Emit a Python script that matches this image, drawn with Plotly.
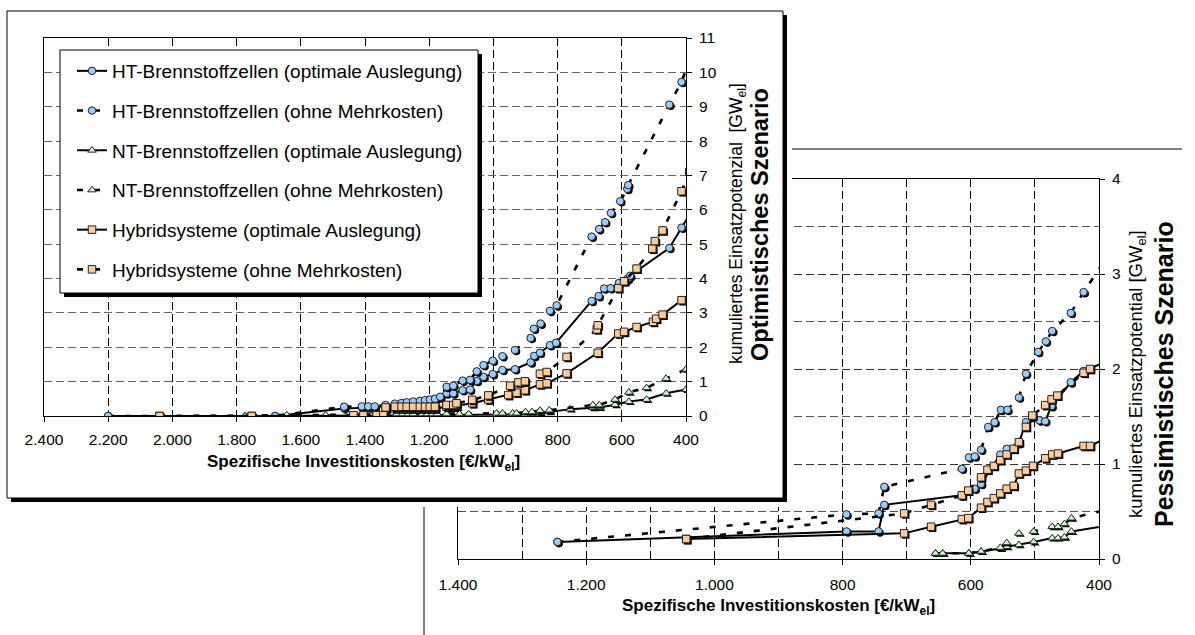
import plotly.graph_objects as go

W, H = 1195, 635
FONT = "Liberation Sans, Arial, sans-serif"

# ---------------- DATA (cost in EUR/kW_el, cumulative potential in GW_el) ----------------
# Optimistic scenario (front panel)
opt_ht_opt_cost = [2200, 1680, 1465, 1410, 1390, 1370, 1336, 1307, 1286, 1270, 1250, 1229, 1213, 1198, 1182, 1166,
                   1146, 1125, 1096, 1073, 1052, 1031, 1002, 972, 933, 884, 873, 855, 824, 805, 694, 672, 655, 635,
                   609, 587, 581, 574, 452, 414, 380]
opt_ht_opt_gw = [0.0, 0.0, 0.22, 0.25, 0.25, 0.25, 0.30, 0.33, 0.35, 0.37, 0.39, 0.41, 0.43, 0.45, 0.48, 0.54,
                 0.66, 0.66, 0.75, 0.77, 1.02, 1.14, 1.22, 1.34, 1.36, 1.56, 1.75, 1.84, 2.06, 2.13, 3.35, 3.49, 3.71,
                 3.72, 3.87, 3.95, 4.00, 4.08, 4.89, 5.48, 6.00]

opt_ht_ohne_cost = [2200, 1680, 1465, 1410, 1390, 1370, 1336, 1307, 1286, 1270, 1250, 1229, 1213, 1198, 1182, 1166,
                    1146, 1125, 1096, 1073, 1052, 1031, 1002, 972, 933, 884, 874, 853, 824, 803, 694, 671, 652, 634,
                    605, 583, 580, 452, 414, 385]
opt_ht_ohne_gw = [0.0, 0.0, 0.27, 0.28, 0.28, 0.28, 0.32, 0.36, 0.38, 0.40, 0.42, 0.44, 0.46, 0.48, 0.50, 0.56,
                  0.85, 0.88, 1.03, 1.05, 1.30, 1.48, 1.61, 1.74, 1.92, 2.27, 2.54, 2.69, 3.06, 3.22, 5.22, 5.44, 5.64,
                  5.91, 6.25, 6.61, 6.72, 9.06, 9.72, 10.45]

opt_nt_opt_cost = [1774, 1644, 1522, 1452, 1374, 1301, 1283, 1266, 1250, 1222, 1206, 1190, 1175, 1146, 1106, 1077,
                   990, 972, 940, 928, 900, 880, 855, 826, 761, 690, 670, 621, 578, 523, 462, 400, 380]
opt_nt_opt_gw = [0.0, 0.0, 0.0, 0.0, 0.0, 0.02, 0.02, 0.02, 0.02, 0.02, 0.02, 0.02, 0.02, 0.03, 0.03, 0.03,
                 0.03, 0.03, 0.03, 0.03, 0.05, 0.06, 0.10, 0.12, 0.20, 0.24, 0.25, 0.33, 0.42, 0.48, 0.66, 0.77, 0.82]

opt_nt_ohne_cost = [1774, 1644, 1522, 1452, 1374, 1301, 1283, 1266, 1250, 1222, 1206, 1190, 1175, 1146, 1106, 1077,
                    990, 972, 940, 928, 900, 880, 855, 826, 690, 670, 621, 578, 523, 462, 400, 380]
opt_nt_ohne_gw = [0.0, 0.03, 0.03, 0.03, 0.05, 0.06, 0.06, 0.06, 0.06, 0.06, 0.06, 0.06, 0.06, 0.06, 0.06, 0.06,
                  0.08, 0.08, 0.08, 0.08, 0.12, 0.12, 0.16, 0.17, 0.32, 0.32, 0.48, 0.69, 0.82, 1.09, 1.36, 1.48]

opt_hy_opt_cost = [2040, 1753, 1436, 1405, 1364, 1343, 1336, 1307, 1286, 1270, 1250, 1229, 1213, 1198, 1182, 1146,
                   1125, 1115, 1066, 1016, 954, 928, 902, 855, 834, 772, 675, 611, 593, 554, 503, 493, 473, 414, 380]
opt_hy_opt_gw = [0.0, 0.0, 0.0, 0.0, 0.0, 0.0, 0.20, 0.22, 0.22, 0.22, 0.22, 0.22, 0.22, 0.22, 0.22, 0.27,
                 0.27, 0.30, 0.37, 0.48, 0.61, 0.68, 0.75, 0.92, 0.95, 1.24, 1.84, 2.40, 2.45, 2.59, 2.74, 2.83, 2.95,
                 3.37, 3.60]

opt_hy_ohne_cost = [2040, 1753, 1436, 1405, 1364, 1343, 1336, 1307, 1286, 1270, 1250, 1229, 1213, 1198, 1182, 1146,
                    1125, 1115, 1066, 1016, 948, 922, 902, 855, 834, 772, 678, 675, 611, 593, 554, 505, 497, 473, 414,
                    390]
opt_hy_ohne_gw = [0.0, 0.0, 0.02, 0.02, 0.02, 0.02, 0.25, 0.27, 0.27, 0.27, 0.27, 0.27, 0.27, 0.27, 0.27, 0.32,
                  0.32, 0.37, 0.47, 0.60, 0.88, 0.98, 1.01, 1.23, 1.28, 1.72, 2.52, 2.64, 3.72, 3.92, 4.29, 4.87, 5.09,
                  5.40, 6.54, 7.10]

# Pessimistic scenario (back panel)
pes_ht_opt_cost = [1245, 794, 744, 735, 614, 594, 584, 554, 544, 525, 514, 493, 484, 474, 444, 424, 380]
pes_ht_opt_gw = [0.18, 0.29, 0.29, 0.57, 0.67, 0.74, 0.79, 1.10, 1.16, 1.22, 1.44, 1.46, 1.45, 1.61, 1.86, 1.98, 2.10]

pes_ht_ohne_cost = [1245, 794, 744, 735, 614, 603, 594, 584, 573, 563, 553, 543, 525, 514, 495, 483, 473, 444, 424,
                    380]
pes_ht_ohne_gw = [0.18, 0.47, 0.48, 0.76, 0.95, 1.07, 1.08, 1.15, 1.39, 1.44, 1.57, 1.57, 1.70, 1.95, 2.18, 2.29,
                  2.40, 2.59, 2.81, 3.25]

pes_nt_opt_cost = [655, 644, 603, 584, 554, 544, 525, 502, 473, 464, 454, 443, 380]
pes_nt_opt_gw = [0.06, 0.06, 0.06, 0.08, 0.11, 0.13, 0.15, 0.18, 0.22, 0.22, 0.23, 0.29, 0.36]

pes_nt_ohne_cost = [655, 644, 603, 584, 554, 544, 525, 502, 473, 464, 454, 443, 380]
pes_nt_ohne_gw = [0.06, 0.06, 0.06, 0.08, 0.12, 0.17, 0.27, 0.29, 0.34, 0.34, 0.37, 0.43, 0.53]

pes_hy_opt_cost = [1044, 704, 662, 614, 604, 584, 574, 564, 554, 544, 533, 525, 514, 503, 484, 473, 464, 424, 414,
                   380]
pes_hy_opt_gw = [0.21, 0.27, 0.34, 0.42, 0.43, 0.54, 0.60, 0.64, 0.69, 0.74, 0.77, 0.90, 0.93, 0.98, 1.06, 1.10,
                 1.11, 1.19, 1.19, 1.30]

pes_hy_ohne_cost = [1044, 704, 662, 614, 604, 584, 574, 564, 554, 544, 533, 525, 514, 504, 484, 474, 465, 424, 414,
                    380]
pes_hy_ohne_gw = [0.21, 0.48, 0.57, 0.67, 0.72, 0.86, 0.94, 0.98, 1.04, 1.10, 1.16, 1.23, 1.39, 1.51, 1.62, 1.68,
                  1.72, 1.96, 2.00, 2.20]

# Axis ticks
front_x_ticks = [2400, 2200, 2000, 1800, 1600, 1400, 1200, 1000, 800, 600, 400]
front_x_labels = ["2.400", "2.200", "2.000", "1.800", "1.600", "1.400", "1.200", "1.000", "800", "600", "400"]
back_x_ticks = [1400, 1200, 1000, 800, 600, 400]
back_x_labels = ["1.400", "1.200", "1.000", "800", "600", "400"]
back_x_minor = [1300, 1100, 900, 700, 500]

legend_names = ["HT-Brennstoffzellen (optimale Auslegung)", "HT-Brennstoffzellen (ohne Mehrkosten)",
                "NT-Brennstoffzellen (optimale Auslegung)", "NT-Brennstoffzellen (ohne Mehrkosten)",
                "Hybridsysteme (optimale Auslegung)", "Hybridsysteme (ohne Mehrkosten)"]

# ---------------- GEOMETRY (pixels) ----------------
BACK_PX = (458, 1099, 179, 559)    # x0, x1, ytop, ybottom
FRONT_PX = (44, 686, 38, 416)
BOX_DOM = (4, 792, 8, 507)
BOX_RECT = (7, 783, 11, 498)
LEG_RECT = (60, 478, 50, 293)
SHADOW = 4


def pxx(x):
    return x / W


def pyy(y):
    return 1 - y / H


fig = go.Figure()

styles = {
    "ht": dict(symbol="circle", color="#99CCFF", size=7.5),
    "nt": dict(symbol="triangle-up", color="#CCFFCC", size=7.5),
    "hy": dict(symbol="square", color="#FFCC99", size=7.5),
}


def add_series(cost, gw, kind, dashed, xa, ya, xpx, ypx, xrange_, yrange_, name=None, legend=False, lg=None):
    # pixel->unit for marker shadow offset
    ux = (xrange_[0] - xrange_[1]) / (xpx[1] - xpx[0])
    uy = (yrange_[1] - yrange_[0]) / (ypx[1] - ypx[0])
    off = 1.6
    st = styles[kind]
    fig.add_trace(go.Scatter(
        x=[c - off * ux for c in cost], y=[g - off * uy for g in gw], xaxis=xa, yaxis=ya, mode="markers",
        marker=dict(symbol=st["symbol"], size=st["size"], color="black", line=dict(width=0)),
        showlegend=False, hoverinfo="skip"))
    line = dict(color="black", width=2.6, dash="6px,11px") if dashed else dict(color="black", width=2)
    fig.add_trace(go.Scatter(
        x=cost, y=gw, xaxis=xa, yaxis=ya, mode="lines+markers", name=name, showlegend=legend,
        legendgroup=lg, line=line,
        marker=dict(symbol=st["symbol"], size=st["size"], color=st["color"], line=dict(color="#222222", width=1))))


# ---- back (pessimistic) panel: xy ----
back_series = [
    (pes_ht_opt_cost, pes_ht_opt_gw, "ht", False),
    (pes_ht_ohne_cost, pes_ht_ohne_gw, "ht", True),
    (pes_nt_opt_cost, pes_nt_opt_gw, "nt", False),
    (pes_nt_ohne_cost, pes_nt_ohne_gw, "nt", True),
    (pes_hy_opt_cost, pes_hy_opt_gw, "hy", False),
    (pes_hy_ohne_cost, pes_hy_ohne_gw, "hy", True),
]
for c, g, k, d in back_series:
    add_series(c, g, k, d, "x", "y", (BACK_PX[0], BACK_PX[1]), (BACK_PX[2], BACK_PX[3]), (1400, 400), (0, 4))

# ---- white box of the front panel: x2y2 ----
bx0, bx1, by0, by1 = BOX_RECT
fig.add_trace(go.Scatter(
    x=[bx0 + SHADOW, bx1 + SHADOW, bx1 + SHADOW, bx0 + SHADOW, bx0 + SHADOW],
    y=[by0 + SHADOW, by0 + SHADOW, by1 + SHADOW, by1 + SHADOW, by0 + SHADOW],
    xaxis="x2", yaxis="y2", mode="lines", fill="toself", fillcolor="black", line=dict(width=0),
    showlegend=False, hoverinfo="skip"))
fig.add_trace(go.Scatter(
    x=[bx0, bx1, bx1, bx0, bx0], y=[by0, by0, by1, by1, by0],
    xaxis="x2", yaxis="y2", mode="lines", fill="toself", fillcolor="white", line=dict(width=1, color="black"),
    showlegend=False, hoverinfo="skip"))

# ---- front (optimistic) panel: x3y3 ----
front_series = [
    (opt_ht_opt_cost, opt_ht_opt_gw, "ht", False),
    (opt_ht_ohne_cost, opt_ht_ohne_gw, "ht", True),
    (opt_nt_opt_cost, opt_nt_opt_gw, "nt", False),
    (opt_nt_ohne_cost, opt_nt_ohne_gw, "nt", True),
    (opt_hy_opt_cost, opt_hy_opt_gw, "hy", False),
    (opt_hy_ohne_cost, opt_hy_ohne_gw, "hy", True),
]
for i, (c, g, k, d) in enumerate(front_series):
    add_series(c, g, k, d, "x3", "y3", (FRONT_PX[0], FRONT_PX[1]), (FRONT_PX[2], FRONT_PX[3]), (2400, 400),
               (0, 11), name=legend_names[i], legend=True, lg="g%d" % i)

grid_dash = "8px,4px"
axis_common = dict(showline=True, mirror=True, linecolor="black", linewidth=1, zeroline=False,
                   tickfont=dict(family=FONT, size=15.5, color="black"), ticks="outside", ticklen=5,
                   tickcolor="black", fixedrange=True, automargin=False)

fig.update_layout(
    template="none",
    width=W, height=H, margin=dict(l=0, r=0, t=0, b=0, pad=0, autoexpand=False),
    paper_bgcolor="white", plot_bgcolor="white",
    font=dict(family=FONT, color="black"),
    hovermode=False,
    xaxis=dict(domain=[pxx(BACK_PX[0]), pxx(BACK_PX[1])], range=[1400, 400], anchor="y",
               tickmode="array", tickvals=back_x_ticks, ticktext=back_x_labels,
               showgrid=True, gridcolor="black", griddash=grid_dash, gridwidth=1,
               minor=dict(tickvals=back_x_minor, showgrid=True, gridcolor="black", griddash=grid_dash, ticks=""),
               ticklabelstandoff=6, **axis_common),
    yaxis=dict(domain=[pyy(BACK_PX[3]), pyy(BACK_PX[2])], range=[0, 4], anchor="x", side="right",
               dtick=1, tick0=0, showgrid=True, gridcolor="#333333", griddash=grid_dash,
               minor=dict(dtick=0.5, showgrid=True, gridcolor="#555555", griddash=grid_dash, ticks=""),
               ticklabelstandoff=4, **axis_common),
    xaxis2=dict(domain=[pxx(BOX_DOM[0]), pxx(BOX_DOM[1])], range=[BOX_DOM[0], BOX_DOM[1]], anchor="y2",
                visible=False, fixedrange=True, automargin=False),
    yaxis2=dict(domain=[pyy(BOX_DOM[3]), pyy(BOX_DOM[2])], range=[BOX_DOM[3], BOX_DOM[2]], anchor="x2",
                visible=False, fixedrange=True, automargin=False),
    xaxis3=dict(domain=[pxx(FRONT_PX[0]), pxx(FRONT_PX[1])], range=[2400, 400], anchor="y3",
                tickmode="array", tickvals=front_x_ticks, ticktext=front_x_labels,
                showgrid=True, gridcolor="black", griddash=grid_dash, gridwidth=1,
                ticklabelstandoff=4, **axis_common),
    yaxis3=dict(domain=[pyy(FRONT_PX[3]), pyy(FRONT_PX[2])], range=[0, 11], anchor="x3", side="right",
                dtick=1, tick0=0, showgrid=True, gridcolor="#666666", griddash=grid_dash,
                ticklabelstandoff=4, **axis_common),
    legend=dict(x=pxx(LEG_RECT[0]), y=pyy(LEG_RECT[2] + 2), xanchor="left", yanchor="top",
                bgcolor="rgba(0,0,0,0)", borderwidth=0, font=dict(family=FONT, size=19, color="black"),
                tracegroupgap=12, itemwidth=30, indentation=12, itemclick=False, itemdoubleclick=False),
    showlegend=True,
)

# back panel frame lines (partly hidden by the front panel)
fig.add_shape(type="line", xref="paper", yref="paper", x0=pxx(424), x1=pxx(1182), y0=pyy(149), y1=pyy(149),
              line=dict(color="black", width=1), layer="below")
fig.add_shape(type="line", xref="paper", yref="paper", x0=pxx(424), x1=pxx(424), y0=pyy(149), y1=pyy(640),
              line=dict(color="black", width=1), layer="below")

# legend frame with shadow (drawn above the plot, below the legend entries)
lx0, lx1, ly0, ly1 = LEG_RECT
fig.add_shape(type="rect", xref="paper", yref="paper", x0=pxx(lx0 + SHADOW), x1=pxx(lx1 + SHADOW),
              y0=pyy(ly0 + SHADOW), y1=pyy(ly1 + SHADOW), line=dict(width=0), fillcolor="black", layer="above")
fig.add_shape(type="rect", xref="paper", yref="paper", x0=pxx(lx0), x1=pxx(lx1), y0=pyy(ly0), y1=pyy(ly1),
              line=dict(width=1, color="black"), fillcolor="white", layer="above")

ann = []
ann.append(dict(x=pxx(363), y=pyy(463), text="<b>Spezifische Investitionskosten [€/kW<sub>el</sub>]</b>",
                font=dict(size=17)))
ann.append(dict(x=pxx(737), y=pyy(224), text="kumuliertes Einsatzpotenzial  [GW<sub>el</sub>]",
                font=dict(size=17.5), textangle=-90))
ann.append(dict(x=pxx(760), y=pyy(225), text="<b>Optimistisches Szenario</b>", font=dict(size=23.5),
                textangle=-90))
ann.append(dict(x=pxx(778), y=pyy(607), text="<b>Spezifische Investitionskosten [€/kW<sub>el</sub>]</b>",
                font=dict(size=17)))
ann.append(dict(x=pxx(1137), y=pyy(374), text="kumuliertes Einsatzpotential [GW<sub>el</sub>]",
                font=dict(size=18.5), textangle=-90))
ann.append(dict(x=pxx(1164), y=pyy(374), text="<b>Pessimistisches Szenario</b>", font=dict(size=25),
                textangle=-90))
for a in ann:
    a.update(xref="paper", yref="paper", showarrow=False, xanchor="center", yanchor="middle")
    a["font"].update(family=FONT, color="black")
fig.update_layout(annotations=ann)

fig.write_html("out.html", config={"displayModeBar": False, "staticPlot": True},
               post_script="document.body.style.margin='0px';")
